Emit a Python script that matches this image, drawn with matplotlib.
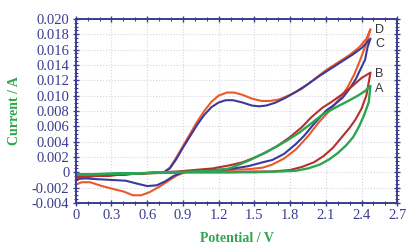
import matplotlib
matplotlib.use('Agg')
import matplotlib.pyplot as plt
import matplotlib.ticker as ticker

# Cyclic voltammograms A-D
# each loop: forward scan then reverse scan

# A (green)
a_fwd_v = [0.00, 0.30, 0.60, 0.90, 1.20, 1.50, 1.70, 1.85, 1.95, 2.05, 2.13, 2.20, 2.27, 2.33, 2.38, 2.42, 2.46, 2.475]
a_fwd_i = [-0.0003, -0.0002, -0.0001, 0.0000, 0.0000, 0.0000, 0.0001, 0.0002, 0.0005, 0.0010, 0.0017, 0.0025, 0.0035, 0.0046, 0.0060, 0.0074, 0.0091, 0.01126]
a_rev_v = [2.43, 2.37, 2.30, 2.20, 2.07, 1.98, 1.88, 1.78, 1.68, 1.57, 1.45, 1.29, 1.15, 1.00, 0.80, 0.60, 0.30, 0.00]
a_rev_i = [0.0106, 0.0100, 0.0094, 0.0086, 0.0075, 0.0064, 0.0052, 0.0042, 0.0033, 0.0024, 0.0015, 0.0005, 0.0002, 0.0001, 0.0000, -0.0001, -0.0002, -0.0003]

# B (dark red)
b_fwd_v = [0.00, 0.15, 0.30, 0.50, 0.70, 0.90, 1.10, 1.30, 1.50, 1.65, 1.80, 1.90, 2.00, 2.08, 2.16, 2.23, 2.30, 2.35, 2.40, 2.44, 2.475]
b_fwd_i = [-0.0007, -0.0005, -0.0004, -0.0002, -0.0001, 0.0000, 0.0000, 0.0000, 0.0001, 0.0001, 0.0003, 0.0007, 0.0013, 0.0021, 0.0032, 0.0045, 0.0058, 0.0069, 0.0083, 0.0100, 0.0130]
b_rev_v = [2.40, 2.32, 2.24, 2.15, 2.07, 1.98, 1.90, 1.80, 1.70, 1.60, 1.50, 1.40, 1.29, 1.15, 1.00, 0.85, 0.70, 0.50, 0.30, 0.15, 0.00]
b_rev_i = [0.0123, 0.0112, 0.0102, 0.0092, 0.0084, 0.0072, 0.0059, 0.0046, 0.0035, 0.0026, 0.0019, 0.0013, 0.0009, 0.0005, 0.0003, 0.0001, 0.0000, -0.0002, -0.0004, -0.0005, -0.0007]

# C (blue)
c_fwd_v = [0.00, 0.20, 0.40, 0.60, 0.74, 0.79, 0.84, 0.90, 0.96, 1.02, 1.08, 1.14, 1.20, 1.26, 1.32, 1.40, 1.48, 1.54, 1.60, 1.68, 1.76, 1.85, 1.95, 2.05, 2.15, 2.25, 2.33, 2.40, 2.475]
c_fwd_i = [-0.0004, -0.0003, -0.0002, -0.0001, 0.0000, 0.0005, 0.0016, 0.0032, 0.0047, 0.0062, 0.0075, 0.0085, 0.0091, 0.0094, 0.0094, 0.0091, 0.0087, 0.0086, 0.0087, 0.0091, 0.0097, 0.0105, 0.0115, 0.0126, 0.0136, 0.0146, 0.0154, 0.0162, 0.01744]
c_rev_v = [2.45, 2.43, 2.39, 2.35, 2.30, 2.24, 2.17, 2.10, 2.00, 1.92, 1.85, 1.75, 1.65, 1.57, 1.45, 1.29, 1.15, 1.00, 0.90, 0.82, 0.75, 0.68, 0.60, 0.52, 0.42, 0.30, 0.18, 0.08, 0.00]
c_rev_i = [0.0163, 0.0147, 0.0134, 0.0121, 0.0109, 0.0097, 0.0088, 0.0080, 0.0063, 0.0048, 0.0037, 0.0024, 0.0016, 0.0013, 0.0008, 0.0004, 0.0003, 0.0002, 0.0000, -0.0005, -0.0012, -0.0017, -0.0018, -0.0015, -0.0011, -0.0010, -0.0009, -0.0008, -0.0009]

# D (orange)
d_fwd_v = [0.00, 0.20, 0.40, 0.60, 0.74, 0.79, 0.84, 0.90, 0.96, 1.02, 1.08, 1.14, 1.20, 1.27, 1.33, 1.40, 1.48, 1.56, 1.63, 1.71, 1.80, 1.90, 2.00, 2.10, 2.20, 2.30, 2.38, 2.44, 2.475]
d_fwd_i = [-0.0006, -0.0004, -0.0002, -0.0001, 0.0000, 0.0006, 0.0018, 0.0034, 0.0050, 0.0066, 0.0080, 0.0092, 0.0100, 0.0104, 0.0104, 0.0101, 0.0096, 0.0093, 0.0093, 0.0095, 0.0101, 0.0109, 0.0121, 0.0133, 0.0143, 0.0153, 0.0163, 0.0174, 0.01865]
d_rev_v = [2.44, 2.39, 2.34, 2.28, 2.21, 2.13, 2.04, 1.95, 1.85, 1.75, 1.65, 1.57, 1.45, 1.30, 1.15, 1.00, 0.92, 0.85, 0.78, 0.70, 0.62, 0.55, 0.48, 0.40, 0.32, 0.22, 0.12, 0.05, 0.00]
d_rev_i = [0.0168, 0.0147, 0.0128, 0.0110, 0.0095, 0.0080, 0.0065, 0.0047, 0.0030, 0.0018, 0.0010, 0.0006, 0.0004, 0.0003, 0.0003, 0.0002, 0.0000, -0.0004, -0.0011, -0.0019, -0.0026, -0.0030, -0.0030, -0.0025, -0.0022, -0.0018, -0.0013, -0.0013, -0.0016]

curve_labels = ['A', 'B', 'C', 'D']
label_pos_i = [0.0108, 0.0128, 0.0167, 0.0186]

axis_col = '#3c3c8e'
label_green = '#2fa64e'

fig = plt.figure(figsize=(4.16, 2.49), dpi=100)
ax = fig.add_axes([0.182, 0.185, 0.773, 0.739])

# orange and blue first, green on top
ax.plot(d_fwd_v + d_rev_v, d_fwd_i + d_rev_i, color='#ea5a28', lw=1.5)
ax.plot(c_fwd_v + c_rev_v, c_fwd_i + c_rev_i, color='#3b3a98', lw=1.5)
ax.plot(b_fwd_v + b_rev_v, b_fwd_i + b_rev_i, color='#b3302c', lw=1.5)
ax.plot(a_fwd_v + a_rev_v, a_fwd_i + a_rev_i, color='#2aa651', lw=1.7)

for lab, yi in zip(curve_labels, label_pos_i):
    ax.text(2.515, yi, lab, fontsize=9, color='#333333', family='Liberation Sans',
            ha='left', va='center')

ax.set_xlim(0, 2.7)
ax.set_ylim(-0.004, 0.020)

ax.xaxis.set_major_locator(ticker.MultipleLocator(0.3))
ax.xaxis.set_minor_locator(ticker.MultipleLocator(0.1))
ax.yaxis.set_major_locator(ticker.MultipleLocator(0.002))
ax.yaxis.set_minor_locator(ticker.MultipleLocator(0.0005))

ax.xaxis.set_major_formatter(ticker.FuncFormatter(lambda v, p: '0' if abs(v) < 1e-9 else '%.1f' % v))
ax.yaxis.set_major_formatter(ticker.FuncFormatter(lambda v, p: '0' if abs(v) < 1e-9 else '%.3f' % v))

ax.grid(True, which='major', linestyle=':', color='#d4d4e4', linewidth=0.8)

for s in ax.spines.values():
    s.set_color(axis_col)
    s.set_linewidth(1.4)

ax.tick_params(which='both', direction='inout', top=True, right=True,
               color=axis_col, labelcolor=axis_col, labelsize=10.5, pad=2)
ax.tick_params(which='major', length=5, width=1.0)
ax.tick_params(which='minor', length=3, width=0.8)
for t in ax.get_xticklabels() + ax.get_yticklabels():
    t.set_family('Liberation Serif')

ax.set_xlabel('Potential / V', color=label_green, fontweight='bold',
              family='Liberation Serif', fontsize=10)
ax.set_ylabel('Current / A', color=label_green, fontweight='bold',
              family='Liberation Serif', fontsize=10)
ax.xaxis.set_label_coords(0.5, -0.16)
ax.yaxis.set_label_coords(-0.17, 0.5)

fig.savefig('out.png', dpi=100)
